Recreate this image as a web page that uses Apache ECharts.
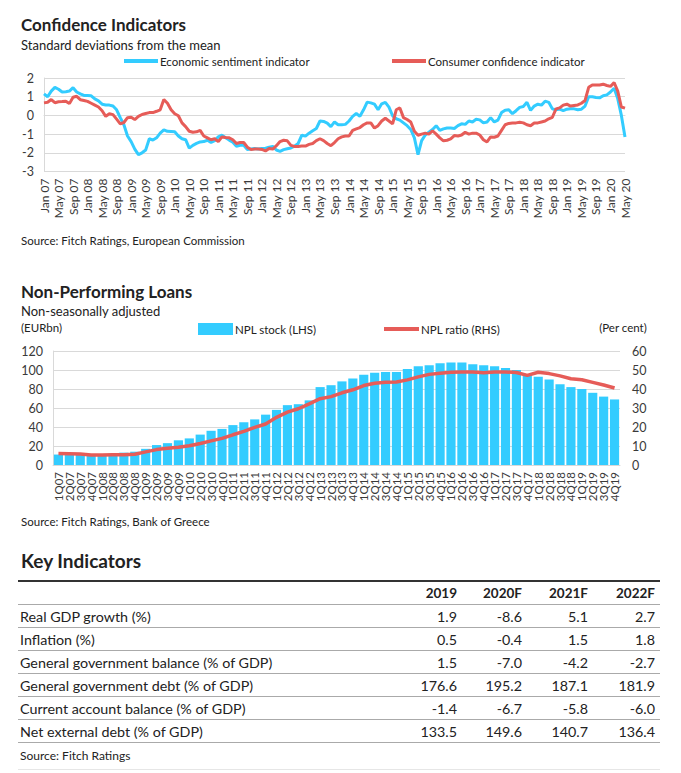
<!DOCTYPE html>
<html><head><meta charset="utf-8">
<script src="https://cdn.jsdelivr.net/npm/echarts@6/dist/echarts.min.js"></script>
<style>
html,body{margin:0;padding:0;background:#fff;}
#wrap{position:relative;width:681px;height:773px;font-family:Lato,'Noto Sans',sans-serif;color:#222;overflow:hidden;}
#chart{position:absolute;left:0;top:0;width:681px;height:540px;}
.t{position:absolute;white-space:nowrap;line-height:1;}
</style></head><body>
<div id="wrap"><div id="chart"></div><div id="table"></div></div>
<script>
// ---------- Confidence indicators (monthly, Jan 07 - May 20) ----------
const monthNames = ['Jan','Feb','Mar','Apr','May','Jun','Jul','Aug','Sep','Oct','Nov','Dec'];
const monthYears = ['07','08','09','10','11','12','13','14','15','16','17','18','19','20'];
const economicSentiment = [
1.15,1.0,1.3,1.5,1.4,1.25,1.27,1.3,1.48,1.25,
1.15,1.07,1.06,1.05,0.88,0.78,0.6,0.56,0.55,0.5,
0.3,-0.12,-0.5,-1.1,-1.4,-1.8,-2.1,-2.0,-1.85,-1.25,
-1.32,-1.2,-0.95,-0.77,-0.85,-0.86,-0.88,-1.1,-1.25,-1.3,
-1.75,-1.6,-1.5,-1.42,-1.4,-1.33,-1.45,-1.35,-1.15,-1.06,
-1.2,-1.32,-1.43,-1.65,-1.6,-1.6,-1.82,-1.8,-1.77,-1.8,
-1.77,-1.75,-1.7,-1.66,-1.85,-1.92,-1.83,-1.78,-1.74,-1.65,
-1.5,-1.06,-1.11,-0.95,-0.82,-0.7,-0.3,-0.32,-0.41,-0.6,
-0.35,-0.5,-0.5,-0.48,-0.3,-0.05,0.1,-0.05,0.3,0.71,
0.67,0.6,0.3,0.62,0.7,0.44,-0.02,-0.18,-0.25,-0.4,
-0.55,-0.75,-1.2,-2.1,-1.35,-1.05,-0.9,-0.75,-0.55,-0.8,
-0.72,-0.67,-0.68,-0.7,-0.55,-0.45,-0.48,-0.3,-0.35,-0.21,
-0.24,-0.4,-0.35,-0.12,-0.35,-0.25,0.15,0.28,0.3,0.09,
0.25,0.43,0.48,0.7,0.27,0.5,0.6,0.55,0.76,0.7,
0.35,0.3,0.34,0.25,0.33,0.35,0.35,0.3,0.33,0.5,
1.0,1.0,0.96,0.94,1.05,1.1,1.25,1.45,0.9,0.0,
-1.15
];
const consumerConfidence = [
0.67,0.7,0.85,0.68,0.73,0.74,0.76,0.63,0.97,1.02,
0.84,0.8,0.75,0.65,0.55,0.45,0.25,-0.05,0.09,0.04,
-0.2,-0.45,-0.38,-0.12,-0.1,-0.22,-0.05,0.05,0.1,0.15,
0.15,0.22,0.3,0.85,0.65,0.3,0.09,-0.02,-0.4,-0.6,
-0.85,-0.9,-0.88,-0.8,-1.1,-1.2,-1.3,-1.25,-1.4,-1.15,
-1.18,-1.2,-1.3,-1.5,-1.45,-1.45,-1.7,-1.83,-1.8,-1.8,
-1.82,-1.9,-1.77,-1.8,-1.62,-1.4,-1.33,-1.36,-1.6,-1.66,
-1.66,-1.64,-1.64,-1.55,-1.5,-1.35,-1.25,-1.35,-1.5,-1.62,
-1.45,-1.25,-1.15,-1.1,-1.1,-0.8,-0.72,-0.65,-0.5,-0.4,
-0.4,-0.68,-0.55,-0.3,-0.15,-0.3,-0.45,0.3,0.4,-0.12,
-0.22,-0.35,-0.85,-1.06,-1.0,-0.95,-1.0,-0.82,-1.0,-1.2,
-1.36,-1.33,-1.26,-1.08,-1.1,-1.05,-0.9,-1.0,-0.95,-0.95,
-1.05,-1.3,-1.42,-1.15,-1.17,-1.1,-0.8,-0.5,-0.43,-0.41,
-0.4,-0.37,-0.4,-0.5,-0.55,-0.41,-0.4,-0.35,-0.3,-0.18,
-0.1,0.35,0.4,0.55,0.6,0.5,0.53,0.56,0.65,0.8,
1.5,1.63,1.62,1.63,1.67,1.6,1.55,1.76,1.3,0.45,
0.39
];
const confTicks = [-3,-2,-1,0,1,2];

// ---------- Non-performing loans (quarterly, 1Q07 - 4Q19) ----------
const quarterYears = ['07','08','09','10','11','12','13','14','15','16','17','18','19'];
const nplStock = [11,11,11,10,11,12,13,14,17,21,23,26,28,32,36,38,42,45,48,53,58,63,64,68,
82,84,88,91,95,97,98,98,101,104,105,107,108,108,106,105,104,102,100,95,93,90,85,82,80,76,72,69];
const nplRatio = [6.0,5.9,5.8,5.3,5.3,5.4,5.4,5.7,6.9,8.1,8.8,9.4,10.1,11.3,12.7,14.0,15.9,17.7,19.8,21.6,25.1,27.8,29.6,32.2,
34.9,36.0,38.0,39.6,41.8,43.0,43.5,43.7,44.8,46.4,47.7,48.3,48.8,49.0,49.0,48.5,49.0,49.0,48.7,47.2,48.8,48.1,46.9,45.4,44.9,43.5,42.1,40.5];

// ---------- Key indicators table ----------
const tableYears = ['2019','2020F','2021F','2022F'];
const tableLabels = ['Real GDP growth (%)','Inflation (%)','General government balance (% of GDP)','General government debt (% of GDP)','Current account balance (% of GDP)','Net external debt (% of GDP)'];
const tableValues = [
  ['1.9','-8.6','5.1','2.7'],
  ['0.5','-0.4','1.5','1.8'],
  ['1.5','-7.0','-4.2','-2.7'],
  ['176.6','195.2','187.1','181.9'],
  ['-1.4','-6.7','-5.8','-6.0'],
  ['133.5','149.6','140.7','136.4']
];

// categories
const months = [];
for (const y of monthYears) for (const m of monthNames) { if (months.length < economicSentiment.length) months.push(m + ' ' + y); }
const quarters = [];
for (const y of quarterYears) for (let q = 1; q <= 4; q++) quarters.push(q + 'Q' + y);

const FONT = 'Lato';
const BLUE = '#33CCFF';
const RED = '#E65C58';
const GRID = '#D9D9D9';
const LABEL = '#3a3a3a';

const chart = echarts.init(document.getElementById('chart'), null, {renderer: 'svg'});
chart.setOption({
  animation: false,
  textStyle: {fontFamily: FONT},
  title: [
    {text: 'Confidence Indicators', left: 16, top: 11, textStyle: {fontFamily: FONT, fontSize: 17, fontWeight: 'bold', color: '#222'}},
    {text: 'Standard deviations from the mean', left: 16, top: 33, textStyle: {fontFamily: FONT, fontSize: 13, fontWeight: 'normal', color: '#222'}},
    {text: 'Source: Fitch Ratings, European Commission', left: 16, top: 229, textStyle: {fontFamily: FONT, fontSize: 11.5, fontWeight: 'normal', color: '#222'}},
    {text: 'Non-Performing Loans', left: 16, top: 278, textStyle: {fontFamily: FONT, fontSize: 17, fontWeight: 'bold', color: '#222'}},
    {text: 'Non-seasonally adjusted', left: 16, top: 299, textStyle: {fontFamily: FONT, fontSize: 13, fontWeight: 'normal', color: '#222'}},
    {text: '(EURbn)', left: 16, top: 316, textStyle: {fontFamily: FONT, fontSize: 11.5, fontWeight: 'normal', color: '#222'}},
    {text: '(Per cent)', right: 29, top: 316, textStyle: {fontFamily: FONT, fontSize: 11.5, fontWeight: 'normal', color: '#222'}},
    {text: 'Source: Fitch Ratings, Bank of Greece', left: 16, top: 510, textStyle: {fontFamily: FONT, fontSize: 11.5, fontWeight: 'normal', color: '#222'}}
  ],
  legend: [
    {data: ['Economic sentiment indicator'], left: 119, top: 50, icon: 'rect', itemWidth: 34, itemHeight: 4,
     textStyle: {fontFamily: FONT, fontSize: 11.5, color: '#222', padding: [0,0,0,-3]}},
    {data: ['Consumer confidence indicator'], left: 387, top: 50, icon: 'rect', itemWidth: 34, itemHeight: 4,
     textStyle: {fontFamily: FONT, fontSize: 11.5, color: '#222', padding: [0,0,0,-3]}},
    {data: ['NPL stock (LHS)'], left: 193, top: 318, icon: 'rect', itemWidth: 35, itemHeight: 12,
     textStyle: {fontFamily: FONT, fontSize: 11.5, color: '#222', padding: [0,0,0,-3]}},
    {data: ['NPL ratio (RHS)'], left: 379, top: 318, icon: 'rect', itemWidth: 35, itemHeight: 4,
     textStyle: {fontFamily: FONT, fontSize: 11.5, color: '#222', padding: [0,0,0,-3]}}
  ],
  grid: [
    {left: 44, right: 56, top: 78, height: 93.5, outerBoundsMode: 'none', containLabel: false},
    {left: 53, right: 61, top: 351, height: 114, outerBoundsMode: 'none', containLabel: false}
  ],
  xAxis: [
    {type: 'category', gridIndex: 0, data: months, boundaryGap: false,
     axisLine: {show: true, lineStyle: {color: GRID, width: 1}}, axisTick: {show: false},
     axisLabel: {interval: 3, rotate: 90, fontFamily: FONT, fontSize: 12, color: LABEL, margin: 7}},
    {type: 'category', gridIndex: 1, data: quarters, boundaryGap: true,
     axisLine: {show: true, lineStyle: {color: GRID, width: 1}}, axisTick: {show: false},
     axisLabel: {interval: 0, rotate: 90, fontFamily: FONT, fontSize: 11.5, color: LABEL, margin: 7}}
  ],
  yAxis: [
    {type: 'value', gridIndex: 0, min: -3, max: 2, interval: 1,
     axisLine: {show: true, lineStyle: {color: GRID, width: 1}}, axisTick: {show: false},
     splitLine: {show: true, lineStyle: {color: GRID, width: 1}},
     axisLabel: {fontFamily: FONT, fontSize: 12.5, color: LABEL, margin: 10}},
    {type: 'value', gridIndex: 1, min: 0, max: 120, interval: 20,
     axisLine: {show: true, lineStyle: {color: GRID, width: 1}}, axisTick: {show: false},
     splitLine: {show: true, lineStyle: {color: GRID, width: 1}},
     axisLabel: {fontFamily: FONT, fontSize: 12.5, color: LABEL, margin: 10}},
    {type: 'value', gridIndex: 1, position: 'right', min: 0, max: 60, interval: 10,
     axisLine: {show: false}, axisTick: {show: false}, splitLine: {show: false},
     axisLabel: {fontFamily: FONT, fontSize: 12.5, color: LABEL, margin: 12}}
  ],
  series: [
    {name: 'Economic sentiment indicator', type: 'line', xAxisIndex: 0, yAxisIndex: 0, data: economicSentiment,
     showSymbol: false, symbol: 'none', lineStyle: {color: BLUE, width: 3}, itemStyle: {color: BLUE}},
    {name: 'Consumer confidence indicator', type: 'line', xAxisIndex: 0, yAxisIndex: 0, data: consumerConfidence,
     showSymbol: false, symbol: 'none', lineStyle: {color: RED, width: 3}, itemStyle: {color: RED}},
    {name: 'NPL stock (LHS)', type: 'bar', xAxisIndex: 1, yAxisIndex: 1, data: nplStock,
     barCategoryGap: '16%', itemStyle: {color: BLUE}},
    {name: 'NPL ratio (RHS)', type: 'line', xAxisIndex: 1, yAxisIndex: 2, data: nplRatio,
     showSymbol: false, symbol: 'none', lineStyle: {color: RED, width: 3.5}, itemStyle: {color: RED}}
  ]
});

// ---------- table (HTML, real text) ----------
const tbl = document.getElementById('table');
function addText(txt, x, y, opts) {
  const d = document.createElement('div');
  d.className = 't';
  d.textContent = txt;
  d.style.top = y + 'px';
  d.style.fontSize = (opts.size || 14) + 'px';
  if (opts.bold) d.style.fontWeight = 'bold';
  if (opts.right) { d.style.right = (681 - x) + 'px'; } else { d.style.left = x + 'px'; }
  d.style.color = opts.color || '#222';
  tbl.appendChild(d);
}
function addLine(y, h, color) {
  const d = document.createElement('div');
  d.style.position = 'absolute'; d.style.left = '18px'; d.style.width = '642px';
  d.style.top = y + 'px'; d.style.height = h + 'px'; d.style.background = color;
  tbl.appendChild(d);
}
addText('Key Indicators', 21, 551, {size: 19, bold: true});
addLine(580, 2, '#333');
const colRight = [457, 522, 588, 655];
tableYears.forEach((yr, i) => addText(yr, colRight[i], 587, {size: 13.5, bold: true, right: true}));
addLine(604, 1, '#aaaaaa');
tableLabels.forEach((lab, r) => {
  const yTop = 605 + r * 23;
  addText(lab, 20, yTop + 5, {size: 14.3});
  tableValues[r].forEach((v, i) => addText(v, colRight[i], yTop + 5, {size: 14.3, right: true}));
  addLine(yTop + 22, 1, '#aaaaaa');
});
addText('Source: Fitch Ratings', 20, 750, {size: 12});
addLine(769, 1, '#e6e6e6');
</script>
</body></html>
